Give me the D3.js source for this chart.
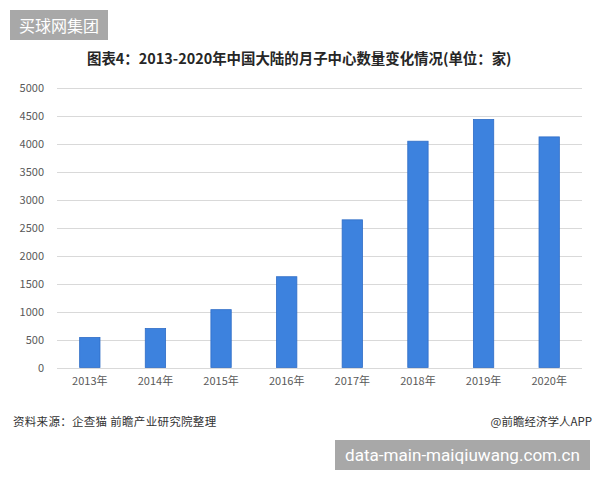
<!DOCTYPE html>
<html><head><meta charset="utf-8">
<script src="https://cdn.jsdelivr.net/npm/d3@7/dist/d3.min.js"></script>
<style>
html,body{margin:0;padding:0;background:#fff;}
svg{display:block;}
</style></head>
<body>
<svg id="chart" width="600" height="480"></svg>
<script>
const years = ["2013年","2014年","2015年","2016年","2017年","2018年","2019年","2020年"];
const counts = [536, 696, 1033, 1621, 2637, 4041, 4429, 4118];
const yTicks = [0,500,1000,1500,2000,2500,3000,3500,4000,4500,5000];
const titleText = "图表4：2013-2020年中国大陆的月子中心数量变化情况(单位：家)";
const sourceText = "资料来源：企查猫 前瞻产业研究院整理";
const creditText = "@前瞻经济学人APP";
const topBadge = "买球网集团";
const bottomBadge = "data-main-maiqiuwang.com.cn";

const svg = d3.select("#chart");
const cjk = "'Noto Sans CJK SC','Noto Sans',sans-serif";

const x = d3.scaleBand().domain(years).range([57, 582]).paddingInner(0.69).paddingOuter(0.345);
const y = d3.scaleLinear().domain([0, 5000]).range([367.5, 87.5]);

// gridlines
svg.append("g").selectAll("line").data(yTicks).join("line")
  .attr("x1", 57).attr("x2", 582)
  .attr("y1", d => Math.round(y(d)) + 0.5).attr("y2", d => Math.round(y(d)) + 0.5)
  .attr("stroke", "#d9d9d9").attr("stroke-width", 1);

// y axis labels
const yAxis = d3.axisLeft(y).tickValues(yTicks).tickFormat(d3.format("d")).tickSize(0).tickPadding(0);
const yg = svg.append("g").attr("transform", "translate(44,0)").call(yAxis);
yg.select(".domain").remove();
yg.selectAll("text").attr("font-family", cjk).attr("font-size", 11).attr("fill", "#595959");

// bars
svg.append("g").selectAll("rect").data(counts).join("rect")
  .attr("x", (d, i) => x(years[i]))
  .attr("width", x.bandwidth())
  .attr("y", d => y(d))
  .attr("height", d => y(0) - y(d))
  .attr("fill", "#3d82de")
  .attr("stroke", "#2f6dc6").attr("stroke-width", 0.8);

// x axis labels
const xAxis = d3.axisBottom(x).tickSize(0).tickPadding(0);
const xg = svg.append("g").attr("transform", "translate(0,377)").call(xAxis);
xg.select(".domain").remove();
xg.selectAll("text").attr("font-family", cjk).attr("font-size", 11).attr("fill", "#595959");

// title
const t = svg.append("text").attr("x", 87).attr("y", 64)
  .attr("font-family", cjk).attr("font-weight", "bold").attr("font-size", 14.5)
  .attr("fill", "#262626").text(titleText);
const tw = t.node().getComputedTextLength();
t.attr("font-size", 14.5 * 425 / tw);

// source
svg.append("text").attr("x", 13).attr("y", 425.5)
  .attr("font-family", cjk).attr("font-size", 11.5).attr("fill", "#333")
  .attr("letter-spacing", 0.3)
  .text(sourceText);
svg.append("text").attr("x", 592).attr("y", 425.5).attr("text-anchor", "end")
  .attr("font-family", cjk).attr("font-size", 11.5).attr("fill", "#333")
  .text(creditText);

// badges
svg.append("rect").attr("x", 10).attr("y", 10).attr("width", 98).attr("height", 30).attr("fill", "#a8a8a8");
svg.append("text").attr("x", 59).attr("y", 31.5).attr("text-anchor", "middle")
  .attr("font-family", cjk).attr("font-size", 16).attr("fill", "#fff").text(topBadge);

svg.append("rect").attr("x", 335).attr("y", 440).attr("width", 255).attr("height", 30).attr("fill", "#a8a8a8");
const bb = svg.append("text").attr("x", 462.5).attr("y", 461).attr("text-anchor", "middle")
  .attr("font-family", "Roboto,'Liberation Sans',sans-serif").attr("font-size", 17).attr("fill", "#fff")
  .text(bottomBadge);
const bw = bb.node().getComputedTextLength();
bb.attr("font-size", 17 * 235 / bw);
</script>
</body></html>
